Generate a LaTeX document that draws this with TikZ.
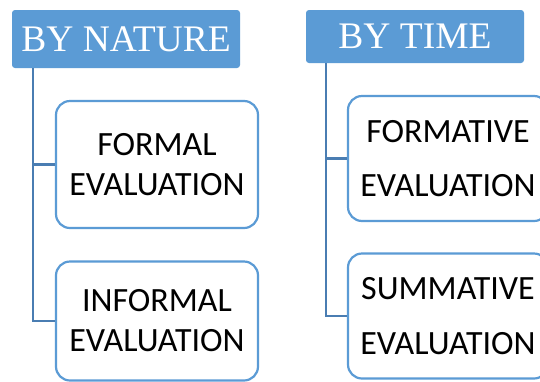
\documentclass[tikz,border=0pt]{standalone}
\usepackage{fontspec}
\setmainfont{Carlito}
\newfontfamily\hdrfont{Liberation Serif}
\begin{document}
\begin{tikzpicture}[x=1pt,y=-1pt,
  hdr/.style={fill=hdrblue,rounded corners=3pt,text=white,inner sep=0pt,
    font=\hdrfont\fontsize{37.5}{40}\selectfont},
  itembox/.style={draw=boxblue,line width=2.2pt,fill=white,rounded corners=14pt,
    align=center,inner sep=0pt,minimum width=#1},
  conn/.style={draw=lineblue,line width=2.6pt}
]
\definecolor{hdrblue}{HTML}{5B9BD5}
\definecolor{boxblue}{HTML}{5B9BD5}
\definecolor{lineblue}{HTML}{4A7DB2}
\useasboundingbox (0,0) rectangle (540,381);
\clip (0,0) rectangle (540,381);
\fill[white] (0,0) rectangle (540,381);

\node[hdr,minimum width=228pt,minimum height=58pt] (nat) at (126,39) {BY NATURE};
\node[hdr,minimum width=218pt,minimum height=53pt] (tim) at (415,36.5) {BY TIME};

\node[itembox=202pt,minimum height=127pt,font=\fontsize{34}{40}\selectfont] (formal) at (157,164.5) {FORMAL\\EVALUATION};
\node[itembox=202pt,minimum height=119pt,font=\fontsize{34}{40}\selectfont] (inf) at (157,321) {INFORMAL\\EVALUATION};
\node[itembox=200pt,minimum height=125pt,font=\fontsize{34}{54}\selectfont] (form) at (448,158.5) {FORMATIVE\\EVALUATION};
\node[itembox=200pt,minimum height=125pt,font=\fontsize{34}{55}\selectfont] (sum) at (448,316) {SUMMATIVE\\EVALUATION};

\coordinate (lt) at (33,68);
\coordinate (rt) at (326,63);
\draw[conn] (lt) |- (inf.west);
\draw[conn] (lt |- formal.west) -- (formal.west);
\draw[conn] (rt) |- (sum.west);
\draw[conn] (rt |- form.west) -- (form.west);
\end{tikzpicture}
\end{document}
